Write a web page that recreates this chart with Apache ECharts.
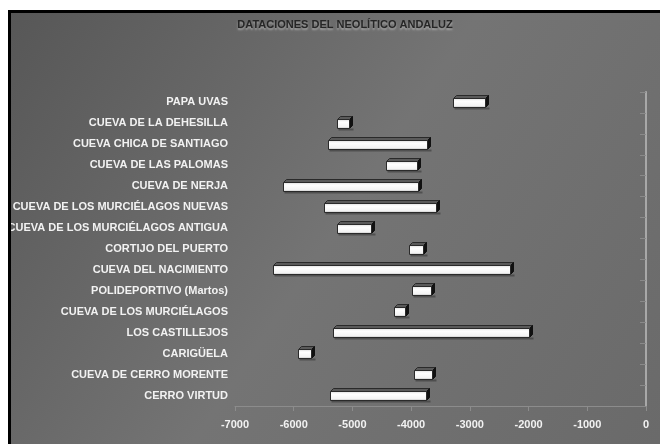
<!DOCTYPE html>
<html>
<head>
<meta charset="utf-8">
<script src="https://cdn.jsdelivr.net/npm/echarts@6/dist/echarts.min.js"></script>
<style>
  html, body { margin: 0; padding: 0; background: #fff; }
  body { width: 660px; height: 444px; position: relative; overflow: hidden; }
  #frame { position: absolute; left: 8px; top: 10px; width: 649px; height: 431px;
           border-left: 3px solid #000; border-top: 3px solid #000; }
  #chart { width: 649px; height: 431px; }
</style>
</head>
<body>
<div id="frame"><div id="chart"></div></div>
<script>
// Sites, listed top to bottom
const sites = [
  'PAPA UVAS',
  'CUEVA DE LA DEHESILLA',
  'CUEVA CHICA DE SANTIAGO',
  'CUEVA DE LAS PALOMAS',
  'CUEVA DE NERJA',
  'CUEVA DE LOS MURCIÉLAGOS NUEVAS',
  'CUEVA DE LOS MURCIÉLAGOS ANTIGUA',
  'CORTIJO DEL PUERTO',
  'CUEVA DEL NACIMIENTO',
  'POLIDEPORTIVO (Martos)',
  'CUEVA DE LOS MURCIÉLAGOS',
  'LOS CASTILLEJOS',
  'CARIGÜELA',
  'CUEVA DE CERRO MORENTE',
  'CERRO VIRTUD'
];
// Oldest and most recent dates of each site (years, negative = BC)
const dateFrom = [-3280, -5260, -5410, -4420, -6180, -5480, -5260, -4030, -6350, -3980, -4300, -5330, -5930, -3950, -5380];
const dateTo   = [-2740, -5060, -3730, -3900, -3880, -3570, -4680, -3790, -2310, -3670, -4100, -2000, -5710, -3640, -3740];
// Year axis
const yearMin = -7000;
const yearMax = 0;
const yearStep = 1000;

const chart = echarts.init(document.getElementById('chart'), null, { renderer: 'canvas' });

const spans = sites.map((s, i) => [i, dateFrom[i], dateTo[i]]);

// Draws one date span as a small 3D box
function renderSpan(params, api) {
  const idx = api.value(0);
  const a = api.coord([api.value(1), idx]);
  const b = api.coord([api.value(2), idx]);
  const h = 9, d = 3;
  const x0 = Math.round(a[0]) + 0.5, x1 = Math.round(b[0]) + 0.5;
  const yt = Math.round(a[1] - h / 2) + 0.5, yb = yt + h;
  return {
    type: 'group',
    children: [
      { type: 'rect', shape: { x: x0 + 1, y: yb, width: x1 - x0 + d, height: 2 },
        style: { fill: 'rgba(0,0,0,0.3)' } },
      { type: 'polygon', shape: { points: [[x0, yt], [x0 + d, yt - d], [x1 + d, yt - d], [x1, yt]] },
        style: { fill: '#5a5a5a', stroke: '#2a2a2a', lineWidth: 1 } },
      { type: 'polygon', shape: { points: [[x1, yt], [x1 + d, yt - d], [x1 + d, yb - d], [x1, yb]] },
        style: { fill: '#111', stroke: '#111', lineWidth: 1 } },
      { type: 'rect', shape: { x: x0, y: yt, width: x1 - x0, height: h },
        style: {
          fill: new echarts.graphic.LinearGradient(0, 0, 0, 1, [
            { offset: 0, color: '#d8d8d8' },
            { offset: 0.3, color: '#ffffff' },
            { offset: 0.75, color: '#f4f4f4' },
            { offset: 1, color: '#bdbdbd' }
          ]),
          stroke: '#2a2a2a', lineWidth: 1
        } }
    ]
  };
}

const labelFont = { fontFamily: 'Liberation Sans, Arial, sans-serif', fontWeight: 'bold', fontSize: 11 };

chart.setOption({
  backgroundColor: new echarts.graphic.LinearGradient(0, 0, 1, 1, [
    { offset: 0, color: '#575757' },
    { offset: 0.5, color: '#747474' },
    { offset: 1, color: '#6a6a6a' }
  ]),
  animation: false,
  title: {
    text: 'DATACIONES DEL NEOLÍTICO ANDALUZ',
    left: 329, top: 1, textAlign: 'center',
    textStyle: Object.assign({}, labelFont, {
      color: '#262626',
      textShadowColor: 'rgba(190,190,190,0.7)', textShadowOffsetY: 2, textShadowBlur: 2
    })
  },
  grid: { left: 224, right: 14, top: 79, bottom: 38, containLabel: false, outerBoundsMode: 'none' },
  xAxis: {
    type: 'value', min: yearMin, max: yearMax, interval: yearStep,
    axisLine: { show: true, lineStyle: { color: '#8c8c8c', width: 1 } },
    axisTick: { show: true, length: 5, lineStyle: { color: '#8c8c8c' } },
    splitLine: { show: false },
    axisLabel: Object.assign({}, labelFont, {
      color: '#f2f2f2', margin: 13,
      formatter: v => String(v)
    })
  },
  yAxis: [
    {
      type: 'category', data: sites, inverse: true,
      axisLine: { show: true, lineStyle: { color: '#8c8c8c', width: 1 } },
      axisTick: { show: true, length: 4, lineStyle: { color: '#8c8c8c' } },
      axisLabel: Object.assign({}, labelFont, { color: '#f2f2f2', margin: 7 })
    },
    {
      type: 'category', data: sites, inverse: true, position: 'right',
      axisLine: { show: true, lineStyle: { color: '#a8a8a8', width: 2 } },
      axisTick: { show: true, inside: true, length: 6, lineStyle: { color: '#8a8a8a' } },
      axisLabel: { show: false }
    }
  ],
  series: [{
    type: 'custom',
    renderItem: renderSpan,
    encode: { x: [1, 2], y: 0 },
    data: spans,
    clip: false
  }]
});
</script>
</body>
</html>
